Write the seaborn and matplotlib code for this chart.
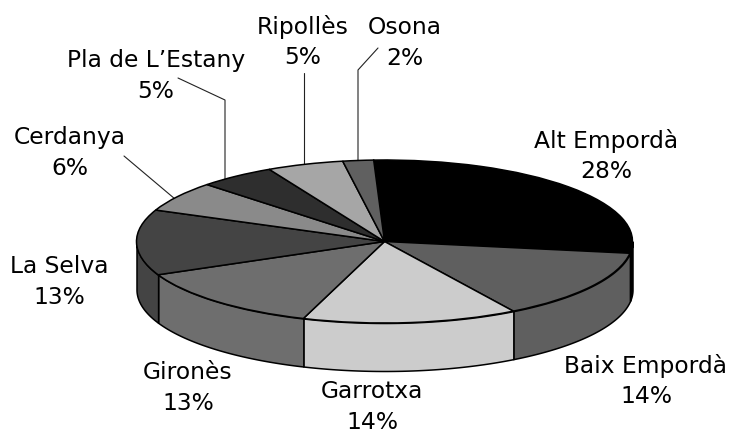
"""
3D style pie, Girona comarques
"""

import numpy as np
import matplotlib
matplotlib.use('Agg')
import matplotlib.pyplot as plt
import seaborn as sns

#-----------------------------------
#Data:
comarques = ['Alt Empordà', 'Baix Empordà', 'Garrotxa', 'Gironès', 'La Selva',
             'Cerdanya', 'Pla de L’Estany', 'Ripollès', 'Osona']
percents = [28, 14, 14, 13, 13, 6, 5, 5, 2]

#-----------------------------------
#Style and layout:
greys = sns.color_palette(['#000000', '#5f5f5f', '#cccccc', '#6e6e6e', '#444444',
                           '#8a8a8a', '#2e2e2e', '#a6a6a6', '#606060'])
label_pos = [(606, 156), (646, 381), (372, 407), (188, 388), (59, 282),
             (70, 153), (156, 76), (303, 42), (405, 43)]
leaders = [[(124, 156), (175, 199)],
           [(178, 78), (225, 100), (225, 180)],
           [(304, 73), (304, 165)],
           [(378, 48), (358, 70), (358, 160)]]

W, H = 731, 434
CX, CY = 384.5, 241.5
RX, RY = 248, 81.5
DEPTH = 48 / RY
START = 92.5


def px(x, y):
    return (x - CX) / RX, (CY - y) / RY


sns.set_theme(style='white')
plt.rcParams['font.family'] = ['DejaVu Sans']

fig = plt.figure(figsize=(W / 100, H / 100), dpi=100)
ax = fig.add_axes([0, 0, 1, 1])

#side wall, only the front half of the ellipse can be seen
edges = START - np.cumsum([0] + percents) * 3.6
for i in range(len(percents)):
    a0, a1 = edges[i + 1], edges[i]
    for low, high in [(-180, 0), (-540, -360)]:
        lo, hi = max(a0, low), min(a1, high)
        if lo >= hi:
            continue
        t = np.radians(np.linspace(lo, hi, 60))
        ax.fill_between(np.cos(t), np.sin(t), np.sin(t) - DEPTH, facecolor=greys[i],
                        edgecolor='black', linewidth=1.1, zorder=1)

ax.pie(percents, colors=greys, startangle=START, counterclock=False,
       wedgeprops=dict(edgecolor='black', linewidth=1.1, zorder=3))

for line in leaders:
    xs, ys = zip(*[px(*p) for p in line])
    ax.plot(xs, ys, color='#222222', linewidth=0.8, zorder=0)

for name, value, pos in zip(comarques, percents, label_pos):
    x, y = px(*pos)
    ax.text(x, y, f'{name}\n{value}%', ha='center', va='center', fontsize=16.8,
            color='black', linespacing=1.42, zorder=5)

ax.set_aspect('auto')
ax.set_xlim(px(0, 0)[0], px(W, 0)[0])
ax.set_ylim(px(0, H)[1], px(0, 0)[1])
ax.axis('off')

fig.savefig('out.png', dpi=100, facecolor='white')
